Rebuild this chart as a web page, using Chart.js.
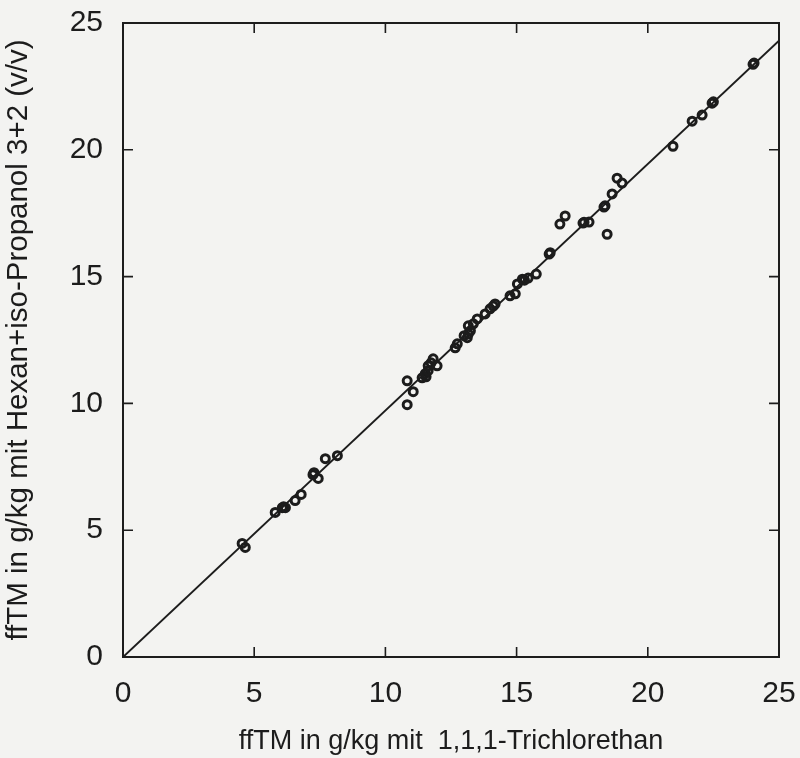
<!DOCTYPE html>
<html>
<head>
<meta charset="utf-8">
<script src="https://cdn.jsdelivr.net/npm/chart.js@4.4.0/dist/chart.umd.min.js"></script>
<style>
  html, body { margin: 0; padding: 0; background: #f3f3f1; }
  #wrap { width: 800px; height: 758px; }
</style>
</head>
<body>
<div id="wrap"><canvas id="chart" width="800" height="758"></canvas></div>
<script>
// Messwerte: x = Trichlorethan, y = Hexan+iso-Propanol
var xWerte = [4.54, 4.66, 5.80, 6.07, 6.12, 6.19, 6.56, 6.79, 7.24, 7.28, 7.44, 7.71, 8.17,
  10.83, 11.06, 10.83, 11.40, 11.55, 11.52, 11.63, 11.63, 11.74, 11.82, 11.97,
  12.66, 12.74, 13.00, 13.12, 13.16, 13.24, 13.16, 13.35, 13.50, 13.80, 13.99, 14.11, 14.18,
  14.75, 14.95, 15.03, 15.22, 15.30, 15.44, 15.75, 16.24, 16.28, 16.65, 16.85, 17.53, 17.57, 17.76,
  18.33, 18.37, 18.45, 18.64, 18.83, 19.02, 20.96, 21.69, 22.07, 22.45, 22.50, 24.01, 24.05];
var yWerte = [4.48, 4.32, 5.70, 5.89, 5.92, 5.89, 6.17, 6.41, 7.19, 7.27, 7.04, 7.82, 7.94,
  10.89, 10.46, 9.95, 11.01, 11.05, 11.17, 11.29, 11.48, 11.60, 11.76, 11.48,
  12.19, 12.35, 12.67, 12.59, 12.74, 12.86, 13.06, 13.14, 13.33, 13.53, 13.73, 13.84, 13.92,
  14.24, 14.32, 14.71, 14.90, 14.86, 14.94, 15.10, 15.89, 15.94, 17.07, 17.39, 17.11, 17.14, 17.15,
  17.74, 17.79, 16.67, 18.26, 18.88, 18.69, 20.14, 21.13, 21.37, 21.84, 21.89, 23.37, 23.42];

// Ausgleichsgerade
var linieX = [0, 25];
var linieY = [0, 24.3];

var achsenTicks = [0, 5, 10, 15, 20, 25];

var punkte = [];
for (i = 0; i < xWerte.length; i++) {
    punkte.push({ x: xWerte[i], y: yWerte[i] });
}
var linie = linieX.map(function (v, i) { return { x: v, y: linieY[i] }; });

var tinte = '#1c1c1c';
var schrift = "'Liberation Sans', Arial, sans-serif";

// Rahmen und nach innen zeigende Ticks auf allen vier Seiten
const rahmenPlugin = {
    id: 'rahmen',
    afterDatasetsDraw(chart) {
        const { ctx, chartArea: a, scales: { x, y } } = chart;
        const len = 10;
        ctx.save();
        ctx.strokeStyle = tinte;
        ctx.lineWidth = 2;
        ctx.strokeRect(a.left, a.top, a.right - a.left, a.bottom - a.top);
        ctx.lineWidth = 1.6;
        ctx.beginPath();
        achsenTicks.forEach(function (t) {
            const px = x.getPixelForValue(t);
            ctx.moveTo(px, a.bottom); ctx.lineTo(px, a.bottom - len);
            ctx.moveTo(px, a.top); ctx.lineTo(px, a.top + len);
            const py = y.getPixelForValue(t);
            ctx.moveTo(a.left, py); ctx.lineTo(a.left + len, py);
            ctx.moveTo(a.right, py); ctx.lineTo(a.right - len, py);
        });
        ctx.stroke();
        ctx.restore();
    }
};

new Chart(document.getElementById('chart'), {
    type: 'scatter',
    data: {
        datasets: [{
            label: 'Messwerte',
            data: punkte,
            pointStyle: 'circle',
            pointRadius: 4,
            pointBorderWidth: 3,
            borderColor: tinte,
            backgroundColor: 'rgba(0,0,0,0)'
        }, {
            type: 'line',
            label: 'Gerade',
            data: linie,
            borderColor: tinte,
            borderWidth: 2,
            pointRadius: 0,
            fill: false
        }]
    },
    options: {
        responsive: false,
        animation: false,
        layout: { padding: { top: 23, right: 21, left: 0, bottom: 0 } },
        plugins: {
            legend: { display: false },
            tooltip: { enabled: false }
        },
        scales: {
            x: {
                type: 'linear',
                min: 0,
                max: 25,
                afterFit: function (s) {
                    s.height = 101;
                    s.paddingLeft = 0;
                    s.paddingRight = 0;
                },
                grid: { display: false, drawTicks: false },
                border: { display: false },
                ticks: {
                    stepSize: 5,
                    padding: 19,
                    color: tinte,
                    font: { family: schrift, size: 30 }
                },
                title: {
                    display: true,
                    text: 'ffTM in g/kg mit  1,1,1-Trichlorethan',
                    color: tinte,
                    font: { family: schrift, size: 27 },
                    padding: { top: 0, bottom: 0 }
                }
            },
            y: {
                type: 'linear',
                min: 0,
                max: 25,
                afterFit: function (s) {
                    s.width = 123;
                    s.paddingTop = 0;
                    s.paddingBottom = 0;
                },
                grid: { display: false, drawTicks: false },
                border: { display: false },
                ticks: {
                    stepSize: 5,
                    padding: 20,
                    color: tinte,
                    font: { family: schrift, size: 30 }
                },
                title: {
                    display: true,
                    text: 'ffTM in g/kg mit Hexan+iso-Propanol 3+2 (v/v)',
                    color: tinte,
                    font: { family: schrift, size: 29.5 },
                    padding: { top: 1, bottom: 0 }
                }
            }
        }
    },
    plugins: [rahmenPlugin]
});
</script>
</body>
</html>
